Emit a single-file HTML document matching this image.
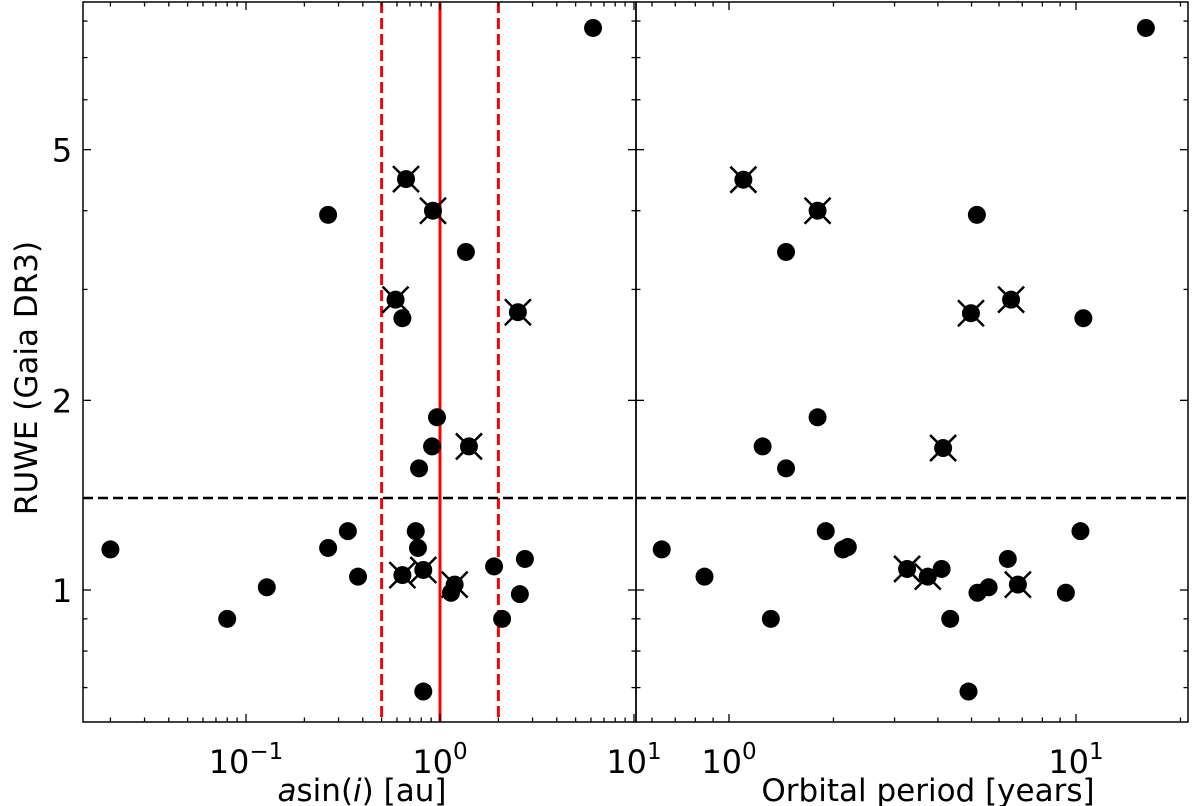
<!DOCTYPE html>
<html><head><meta charset="utf-8"><style>
html,body{margin:0;padding:0;background:#fff;}
svg{display:block;font-family:"DejaVu Sans","Liberation Sans",sans-serif;}
</style></head><body>
<svg id="chart" width="1200" height="806" viewBox="0 0 1200 806" xmlns="http://www.w3.org/2000/svg"></svg>
<script>
// Left panel data: a sin(i) [au] vs RUWE ; flagged = crossed markers
const leftA =    [0.020,0.080,0.128,0.265,0.335,0.378,0.265,0.668,0.92,1.36,0.59,0.64,2.52,0.965,0.91,1.41,0.78,0.75,0.77,0.64,0.82,1.19,1.14,1.90,2.74,2.58,2.09,0.82,6.15];
const leftRuwe = [1.16,0.90,1.01,1.166,1.24,1.05,3.94,4.49,4.0,3.44,2.89,2.70,2.76,1.88,1.69,1.69,1.56,1.24,1.166,1.056,1.076,1.02,0.99,1.09,1.12,0.985,0.90,0.69,7.8];
const leftFlag = [0,0,0,0,0,0,0,1,1,0,1,0,1,0,0,1,0,0,0,1,1,1,0,0,0,0,0,0,0];
// Right panel data: orbital period [years] vs RUWE
const rightP =    [0.64,0.85,1.32,1.10,1.80,1.46,5.18,4.98,6.5,10.5,1.80,1.25,1.46,4.14,1.90,2.13,2.2,3.26,3.74,4.1,5.2,5.6,6.36,6.8,9.35,10.3,4.34,4.9,15.9];
const rightRuwe = [1.16,1.05,0.90,4.48,4.0,3.44,3.94,2.75,2.89,2.70,1.88,1.69,1.56,1.68,1.24,1.16,1.17,1.08,1.05,1.08,0.99,1.01,1.12,1.02,0.99,1.24,0.90,0.69,7.8];
const rightFlag = [0,0,0,1,1,0,0,1,1,0,0,0,0,1,0,0,0,1,1,0,0,0,0,1,0,0,0,0,0];
const yTicks = [1,2,5];
const yTickLabels = ["1","2","5"];
const ruweThreshold = 1.4;
const aLines = [0.5,1,2];

const svg = document.getElementById('chart');
const NS = 'http://www.w3.org/2000/svg';
function mk(tag, attrs, parent){const e=document.createElementNS(NS,tag);for(const k in attrs)e.setAttribute(k,attrs[k]);(parent||svg).appendChild(e);return e;}

const yTop=2, yBot=722;
const Y = v => 590 - Math.log10(v)*630;
const L = {x0:83, x1:636, f: v => 440 + Math.log10(v)*194};
const R = {x0:636, x1:1188, f: v => 729 + Math.log10(v)*347};

function yAxisTicks(p, g){
  for(let d=-1; d<=0; d++) for(let m=1;m<10;m++){
    const v=m*Math.pow(10,d); const y=Y(v);
    if(y<yTop||y>yBot) continue;
    const major = yTicks.includes(v);
    const len = major?8:4.5;
    mk('line',{x1:p.x0,x2:p.x0+len,y1:y,y2:y,stroke:'#000','stroke-width':1.3},g);
    mk('line',{x1:p.x1,x2:p.x1-len,y1:y,y2:y,stroke:'#000','stroke-width':1.3},g);
  }
}
function xAxisTicks(p, g, dmin, dmax){
  for(let d=dmin; d<=dmax; d++) for(let m=1;m<10;m++){
    const v=m*Math.pow(10,d); const x=p.f(v);
    if(x<p.x0-0.5||x>p.x1+0.5) continue;
    const len = m===1?8:4.5;
    mk('line',{x1:x,x2:x,y1:yBot,y2:yBot-len,stroke:'#000','stroke-width':1.3},g);
    mk('line',{x1:x,x2:x,y1:yTop,y2:yTop+len,stroke:'#000','stroke-width':1.3},g);
  }
}
function decLabel(x, exp, g, name){
  const t=mk('text',{x:x,y:773,'font-size':32,'text-anchor':'middle'},g);
  
  
  t.appendChild(document.createTextNode('10'));
  const s=mk('tspan',{dy:-14,'font-size':23},t); s.textContent=exp;
}
function points(p, xs, ys, flags, g){
  for(let i=0;i<xs.length;i++){
    const cx=p.f(xs[i]), cy=Y(ys[i]);
    const c=mk('circle',{cx:cx,cy:cy,r:9,fill:'#000'},g);
    
    
    if(flags[i]){
      const s=13;
      mk('line',{x1:cx-s,y1:cy-s,x2:cx+s,y2:cy+s,stroke:'#000','stroke-width':2.5},g);
      mk('line',{x1:cx-s,y1:cy+s,x2:cx+s,y2:cy-s,stroke:'#000','stroke-width':2.5},g);
    }
  }
}

const defs=mk('defs',{});
[['clipL',L],['clipR',R]].forEach(([id,p])=>{const cp=mk('clipPath',{id:id},defs);mk('rect',{x:p.x0,y:yTop,width:p.x1-p.x0,height:yBot-yTop},cp);});

// Left panel
const gL=mk('g',{});
const gLc=mk('g',{'clip-path':'url(#clipL)'},gL);
aLines.forEach((v,i)=>{
  const x=L.f(v);
  const ln=mk('line',{x1:x,x2:x,y1:yTop,y2:yBot,stroke:'#ff0000','stroke-width':3,'stroke-dasharray':v===1?'none':'11,5'},gLc);
  
  
});
mk('line',{x1:L.x0,x2:L.x1,y1:Y(ruweThreshold),y2:Y(ruweThreshold),stroke:'#000','stroke-width':2.5,'stroke-dasharray':'10,5',},gLc);
points(L,leftA,leftRuwe,leftFlag,gLc);
yAxisTicks(L,gL); xAxisTicks(L,gL,-2,1);
mk('rect',{x:L.x0,y:yTop,width:L.x1-L.x0,height:yBot-yTop,fill:'none',stroke:'#000','stroke-width':1.5,},gL);
decLabel(L.f(0.1),'−1',gL,'x-tick-0.1'); decLabel(L.f(1),'0',gL,'x-tick-1'); decLabel(L.f(10),'1',gL,'x-tick-10');
yTicks.forEach((v,i)=>{const t=mk('text',{x:62,y:Y(v)+12,'font-size':32,'text-anchor':'middle'},gL);t.textContent=yTickLabels[i];});
const xt=mk('text',{x:362,y:801,'font-size':31,'text-anchor':'middle',},gL);
xt.innerHTML='<tspan font-style="italic">a</tspan>sin(<tspan font-style="italic">i</tspan>) [au]';
const yt=mk('text',{x:0,y:0,'font-size':31,'text-anchor':'middle',transform:'translate(37,378) rotate(-90)',},gL);
yt.textContent='RUWE (Gaia DR3)';

// Right panel
const gR=mk('g',{});
const gRc=mk('g',{'clip-path':'url(#clipR)'},gR);
mk('line',{x1:R.x0,x2:R.x1,y1:Y(ruweThreshold),y2:Y(ruweThreshold),stroke:'#000','stroke-width':2.5,'stroke-dasharray':'10,5',},gRc);
points(R,rightP,rightRuwe,rightFlag,gRc);
yAxisTicks(R,gR); xAxisTicks(R,gR,-1,1);
mk('rect',{x:R.x0,y:yTop,width:R.x1-R.x0,height:yBot-yTop,fill:'none',stroke:'#000','stroke-width':1.5,},gR);
decLabel(R.f(1),'0',gR,'x-tick-1-right'); decLabel(R.f(10),'1',gR,'x-tick-10-right');
const xt2=mk('text',{x:928,y:801,'font-size':31,'text-anchor':'middle',},gR);
xt2.textContent='Orbital period [years]';
</script>
</body></html>
